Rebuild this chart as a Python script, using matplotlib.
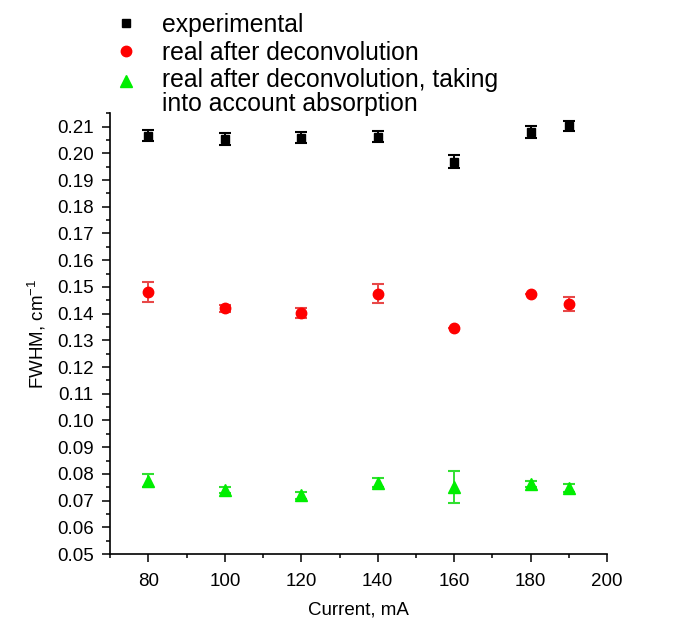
import matplotlib
matplotlib.use("Agg")
import matplotlib.pyplot as plt
from matplotlib.lines import Line2D
from matplotlib.legend_handler import HandlerLine2D
from matplotlib.ticker import MultipleLocator, FormatStrFormatter

plt.rcParams['font.family'] = ['Liberation Sans', 'DejaVu Sans']
plt.rcParams['mathtext.fontset'] = 'custom'
plt.rcParams['mathtext.rm'] = 'Liberation Sans'
plt.rcParams['mathtext.it'] = 'Liberation Sans:italic'

# Discharge current, mA
current = [80, 100, 120, 140, 160, 180, 190]

# Measured line width (FWHM, cm^-1) and its uncertainty
fwhm_exp = [0.2066, 0.2054, 0.2058, 0.2062, 0.1968, 0.2080, 0.2101]
err_exp = [0.0020, 0.0024, 0.0021, 0.0021, 0.0024, 0.0022, 0.0019]

# Width after instrumental deconvolution
fwhm_deconv = [0.1482, 0.1420, 0.1403, 0.1475, 0.1345, 0.1473, 0.1436]
err_deconv = [0.0038, 0.0013, 0.0019, 0.0036, 0.0, 0.0, 0.0027]

# Width after deconvolution with absorption correction
fwhm_abs = [0.0775, 0.0740, 0.0720, 0.0767, 0.0752, 0.0763, 0.0748]
err_abs = [0.0026, 0.0010, 0.0014, 0.0018, 0.0060, 0.0012, 0.0015]

labels = ["experimental",
          "real after deconvolution",
          "real after deconvolution, taking\ninto account absorption"]


class FirstLineHandler(HandlerLine2D):
    """Place the legend marker level with the first line of a two-line label."""

    def __init__(self, lift, **kw):
        super().__init__(**kw)
        self.lift = lift

    def create_artists(self, legend, orig_handle, xdescent, ydescent,
                       width, height, fontsize, trans):
        artists = super().create_artists(legend, orig_handle, xdescent,
                                         ydescent, width, height, fontsize,
                                         trans)
        for a in artists:
            a.set_ydata([y + self.lift for y in a.get_ydata()])
        return artists


fig = plt.figure(figsize=(6.76, 6.19), dpi=100)
ax = fig.add_axes([0.163, 0.105, 0.735, 0.712])

ax.errorbar(current, fwhm_exp, yerr=err_exp, fmt='s', color='black',
            ms=5.5, elinewidth=1.4, capsize=4.5, capthick=1.5, ecolor='black')
ax.errorbar(current, fwhm_deconv, yerr=err_deconv, fmt='o', color='#ff0000',
            ms=7.5, elinewidth=1.4, capsize=4.5, capthick=1.5, ecolor='#e84848')
ax.errorbar(current, fwhm_abs, yerr=err_abs, fmt='^', color='#00ee00',
            ms=8, elinewidth=1.4, capsize=4.5, capthick=1.5, ecolor='#30e030')

ax.set_xlim(70, 200)
ax.set_ylim(0.05, 0.215)
ax.xaxis.set_major_locator(MultipleLocator(20))
ax.xaxis.set_minor_locator(MultipleLocator(10))
ax.yaxis.set_major_locator(MultipleLocator(0.01))
ax.yaxis.set_minor_locator(MultipleLocator(0.005))
ax.yaxis.set_major_formatter(FormatStrFormatter('%.2f'))

for side in ('top', 'right'):
    ax.spines[side].set_visible(False)
for side in ('left', 'bottom'):
    ax.spines[side].set_linewidth(1.2)

ax.tick_params(which='major', direction='out', length=6, width=1.1,
               labelsize=13.5)
ax.tick_params(which='minor', direction='out', length=3, width=1.1)
ax.tick_params(axis='x', which='major', pad=8)
ax.tick_params(axis='y', which='major', pad=6)

ax.set_xlabel("Current, mA", fontsize=13.5, labelpad=8)
ax.set_ylabel("FWHM, cm$^{-1}$", fontsize=13.5, labelpad=6)

handles = [
    Line2D([], [], ls='none', marker='s', color='black', ms=5.5),
    Line2D([], [], ls='none', marker='o', color='#ff0000', ms=7.5),
    Line2D([], [], ls='none', marker='^', color='#00ee00', ms=8),
]
leg = fig.legend(handles, labels, loc='upper left',
                 bbox_to_anchor=(0.165, 0.991), frameon=False,
                 fontsize=17.8, handlelength=0.6, handletextpad=1.15,
                 labelspacing=0.15, borderaxespad=0.0, borderpad=0.3,
                 handler_map={handles[2]: FirstLineHandler(lift=8.5)})
leg.get_texts()[2].set_linespacing(1.0)

fig.savefig("out.png", dpi=100)
